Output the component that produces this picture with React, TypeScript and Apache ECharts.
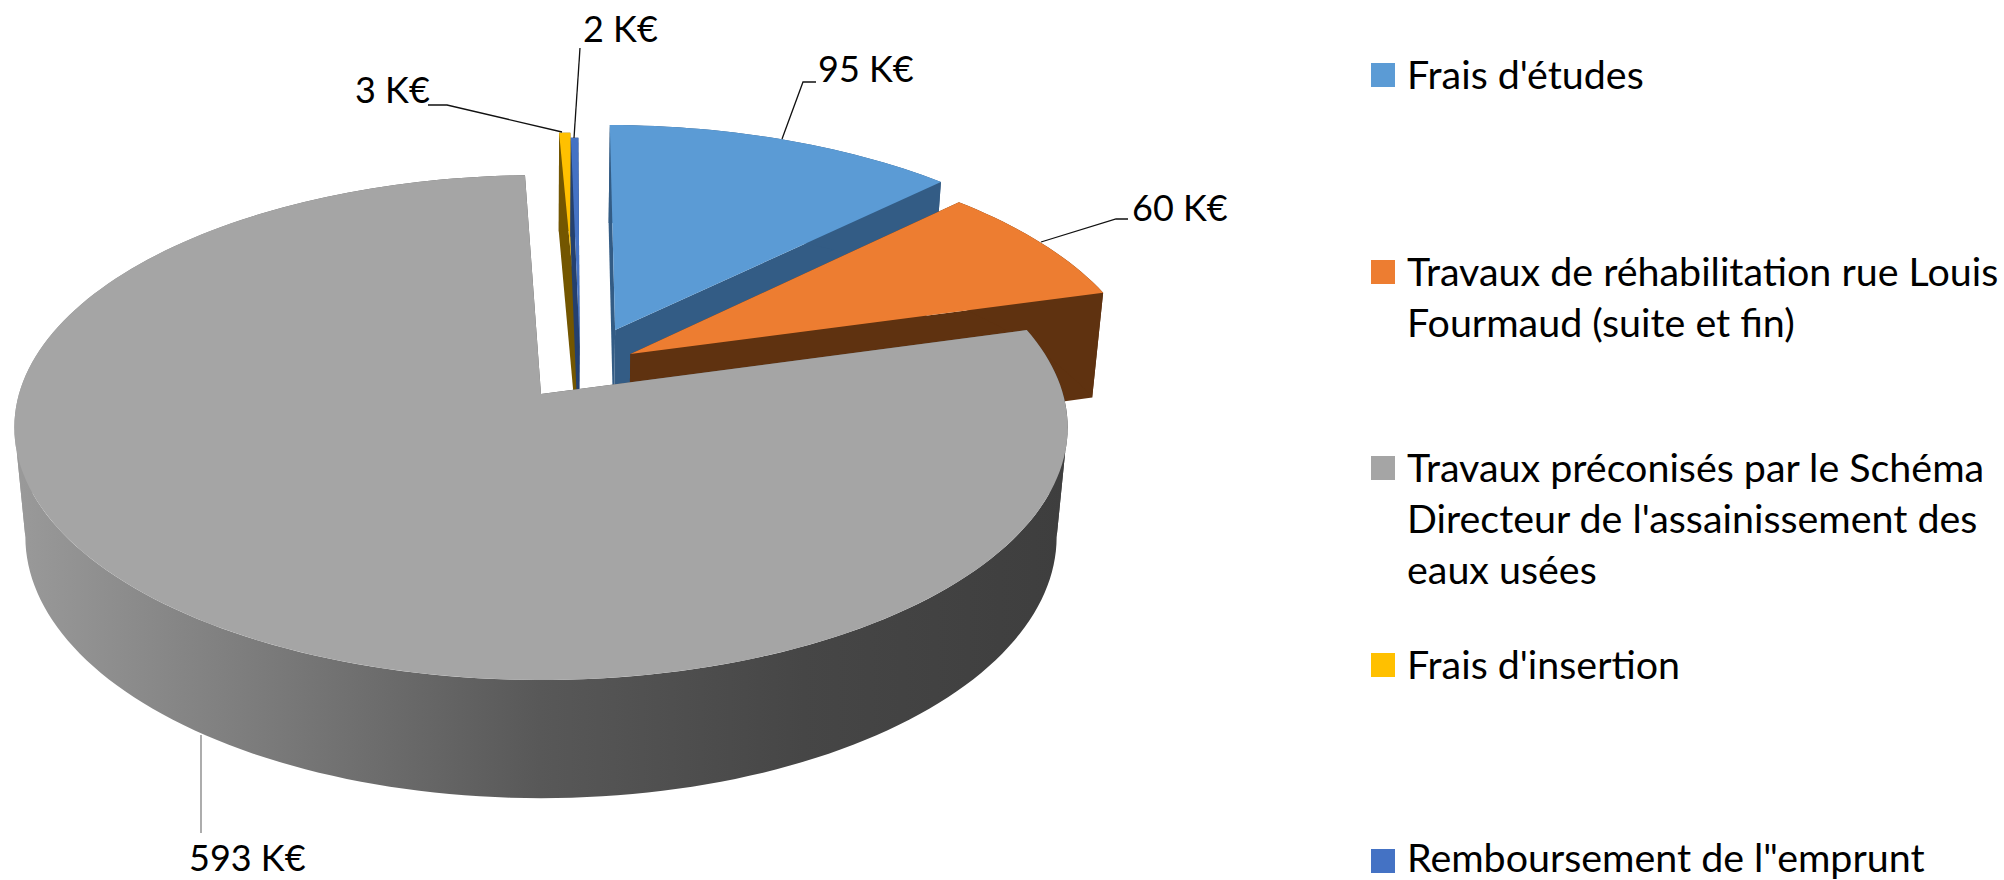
import React, { useEffect, useRef } from "react";
import * as echarts from "echarts";

const categories = [
  "Frais d'études",
  "Travaux de réhabilitation rue Louis\nFourmaud (suite et fin)",
  "Travaux préconisés par le Schéma\nDirecteur de l'assainissement des\neaux usées",
  "Frais d'insertion",
  "Remboursement de l\"emprunt",
];
const values = [95, 60, 593, 3, 2];
const unit = "K€";

const topColors = ["#5B9BD5", "#ED7D31", "#A5A5A5", "#FFC000", "#4472C4"];
const wallColors = ["#335C85", "#5F3210", "#5A5A5A", "#735600", "#24406F"];
const paintOrder = [3, 4, 0, 1, 2];

const explodeX = [0.147, 0.175, 0, 0.075, 0.076];
const explodeY = [-0.267, -0.165, 0, -0.225, -0.197];

const labelPos = [
  [818, 68],
  [1132, 207],
  [189, 857],
  [355, 89],
  [583, 28],
];
const leaders = [
  [[816, 82], [803, 82], [782, 139]],
  [[1128, 219], [1116, 219], [1041, 242]],
  [[201, 735], [201, 833]],
  [[428, 105], [447, 105], [562, 132]],
  [[580, 48], [574, 138]],
];
const leaderColors = ["#111", "#111", "#808080", "#111", "#111"];

const FONT = "Lato";
const LABEL_FS = 36;
const LEGEND_FS = 39.4;
const CX = 541, CY = 394, RX = 522, SY = 248, K = 0.1327, DEPTH = 111, M = 0.021;
const FIRST_ANGLE = 0.4;
const SILHOUETTE = [97.6, 262.4];

function project(X: number, Y: number, Z: number) {
  const w = 1 - K * Y + M * Z;
  return [CX + (RX * X) / w, CY + (SY * Y + DEPTH * Z) / w];
}

const total = values.reduce((a, b) => a + b, 0);
const starts: number[] = [];
values.reduce((acc, v, i) => {
  starts[i] = acc;
  return acc + (v / total) * 360;
}, FIRST_ANGLE);

function arcPts(i: number, a0: number, a1: number, z: number) {
  const n = Math.max(2, Math.ceil((a1 - a0) / 1.5));
  const pts: number[][] = [];
  for (let j = 0; j <= n; j++) {
    const a = ((a0 + ((a1 - a0) * j) / n) * Math.PI) / 180;
    pts.push(project(explodeX[i] + Math.sin(a), explodeY[i] - Math.cos(a), z));
  }
  return pts;
}

function renderSlice(params: any) {
  const i = paintOrder[params.dataIndex];
  const a0 = starts[i];
  const a1 = a0 + (values[i] / total) * 360;
  const apexTop = project(explodeX[i], explodeY[i], 0);
  const apexBot = project(explodeX[i], explodeY[i], 1);
  const rimTop = arcPts(i, a0, a1, 0);
  const rimBot = arcPts(i, a0, a1, 1);
  const wall = wallColors[i];
  const outerFill =
    i === 2
      ? new echarts.graphic.LinearGradient(
          13, 0, 1067, 0,
          [
            { offset: 0, color: "#9A9A9A" },
            { offset: 0.2, color: "#808080" },
            { offset: 0.5, color: "#585858" },
            { offset: 0.75, color: "#464646" },
            { offset: 1, color: "#3E3E3E" },
          ],
          true
        )
      : wall;
  const poly = (points: number[][], fill: any) => ({
    type: "polygon",
    shape: { points },
    style: { fill },
  });
  const children: any[] = [
    poly([apexTop, rimTop[0], rimBot[0], apexBot], wall),
    poly([apexTop, rimTop[rimTop.length - 1], rimBot[rimBot.length - 1], apexBot], wall),
  ];
  // The outer wall is split where it turns away from the viewer, so that the
  // overlapping strips keep a consistent winding and leave no hole.
  const breaks = [a0, ...SILHOUETTE.filter((s) => s > a0 && s < a1), a1];
  for (let b = 0; b < breaks.length - 1; b++) {
    const t = arcPts(i, breaks[b], breaks[b + 1], 0);
    const u = arcPts(i, breaks[b], breaks[b + 1], 1);
    children.push(poly([...t, ...u.slice().reverse()], outerFill));
  }
  children.push(poly([apexTop, ...rimTop], topColors[i]));
  return { type: "group", children };
}

function renderLabels(params: any) {
  const i = params.dataIndex;
  return {
    type: "group",
    children: [
      {
        type: "polyline",
        shape: { points: leaders[i] },
        style: { stroke: leaderColors[i], lineWidth: 1.3, fill: "none" },
      },
      {
        type: "text",
        x: labelPos[i][0],
        y: labelPos[i][1],
        style: {
          text: `${values[i]} ${unit}`,
          fontFamily: FONT,
          fontSize: LABEL_FS,
          fill: "#000",
          align: "left",
          verticalAlign: "middle",
        },
      },
    ],
  };
}

const legendX = 1371;
const legendTop = [63, 260, 456, 653, 849];
const legendTextLift = [2, 2, 2, 2, 5];

export default function App() {
  const ref = useRef<HTMLDivElement>(null);
  useEffect(() => {
    document.body.style.margin = "0";
    const chart = echarts.init(ref.current!, undefined, { renderer: "svg" });
    const legend: any[] = [];
    categories.forEach((c, i) => {
      const multi = c.includes("\n");
      const lh = multi ? 51 : 36;
      legend.push({
        type: "rect",
        shape: { x: legendX, y: legendTop[i], width: 24, height: 24 },
        style: { fill: topColors[i] },
      });
      legend.push({
        type: "text",
        x: legendX + 36,
        y: legendTop[i] + 12 - lh / 2 - legendTextLift[i],
        style: {
          text: c,
          fontFamily: FONT,
          fontSize: LEGEND_FS,
          lineHeight: lh,
          fill: "#000",
          align: "left",
          verticalAlign: "top",
        },
      });
    });
    chart.setOption({
      animation: false,
      backgroundColor: "#fff",
      graphic: legend,
      series: [
        {
          type: "custom",
          coordinateSystem: "none",
          silent: true,
          clip: false,
          data: paintOrder.map((i) => ({ name: categories[i], value: values[i] })),
          renderItem: renderSlice,
          z: 1,
        },
        {
          type: "custom",
          coordinateSystem: "none",
          silent: true,
          clip: false,
          data: categories.map((c, i) => ({ name: c, value: values[i] })),
          renderItem: renderLabels,
          z: 2,
        },
      ],
    });
    return () => chart.dispose();
  }, []);
  return <div ref={ref} style={{ width: 2004, height: 880 }} />;
}
